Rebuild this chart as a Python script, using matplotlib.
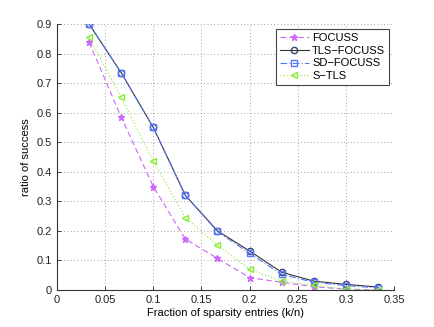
import matplotlib
matplotlib.use("Agg")
import matplotlib.pyplot as plt
import numpy as np

plt.rcParams['font.family'] = ['Liberation Sans', 'DejaVu Sans']

k_over_n = [1/30, 2/30, 3/30, 4/30, 5/30, 6/30, 7/30, 8/30, 9/30, 10/30]
focuss = [0.838, 0.585, 0.350, 0.172, 0.107, 0.042, 0.026, 0.011, 0.003, 0.000]
tls_focuss = [0.900, 0.735, 0.550, 0.320, 0.200, 0.132, 0.060, 0.030, 0.019, 0.010]
sd_focuss = [0.900, 0.735, 0.550, 0.320, 0.198, 0.124, 0.053, 0.026, 0.015, 0.007]
s_tls = [0.855, 0.652, 0.437, 0.245, 0.152, 0.070, 0.030, 0.016, 0.002, 0.000]

xticks = [0, 0.05, 0.1, 0.15, 0.2, 0.25, 0.3, 0.35]
yticks = [0, 0.1, 0.2, 0.3, 0.4, 0.5, 0.6, 0.7, 0.8, 0.9]

fig = plt.figure(figsize=(4.35, 3.27), dpi=100)
ax = fig.add_axes([57/435, 1-290/327, (394-57)/435, (290-24)/327])

ax.plot(k_over_n, focuss, linestyle=(0, (5, 3)), color='#cc66ff', marker='*',
        markersize=5, linewidth=0.8, label='FOCUSS')
ax.plot(k_over_n, tls_focuss, linestyle='-', color='#333333', marker='o',
        markersize=4.5, markerfacecolor='none', markeredgecolor='#334466',
        markeredgewidth=1.0, linewidth=0.8, label='TLS\u2212FOCUSS')
ax.plot(k_over_n, sd_focuss, linestyle=(0, (6, 2, 1, 2)), color='#5577ff', marker='s',
        markersize=4.2, markerfacecolor='none', markeredgewidth=1.0, linewidth=0.8,
        label='SD\u2212FOCUSS')
ax.plot(k_over_n, s_tls, linestyle=(0, (1, 2)), color='#88ee33', marker='<',
        markersize=5, markerfacecolor='none', markeredgewidth=1.0, linewidth=0.8,
        label='S\u2212TLS')

ax.set_xlim(0, 0.35)
ax.set_ylim(0, 0.9)
ax.set_xticks(xticks)
ax.set_xticklabels(['0', '0.05', '0.1', '0.15', '0.2', '0.25', '0.3', '0.35'])
ax.set_yticks(yticks)
ax.set_yticklabels(['0', '0.1', '0.2', '0.3', '0.4', '0.5', '0.6', '0.7', '0.8', '0.9'])
ax.tick_params(direction='in', labelsize=8, length=3, width=0.6, colors='#222222')
ax.grid(True, linestyle=(0, (1, 3)), color='#888888', linewidth=0.6)
for s in ['top', 'right']:
    ax.spines[s].set_visible(False)
for s in ['left', 'bottom']:
    ax.spines[s].set_linewidth(0.8)
    ax.spines[s].set_color('#333333')

ax.set_xlabel('Fraction of sparsity entries (k/n)', fontsize=8, labelpad=2)
ax.set_ylabel('ratio of success', fontsize=8, labelpad=4)

leg = ax.legend(loc='upper right', bbox_to_anchor=(1 - 5/337, 1 - 5/266), fontsize=8,
                fancybox=False, framealpha=1, edgecolor='#444444', borderpad=0.35,
                labelspacing=0.25, handlelength=2.6, handletextpad=0.3, borderaxespad=0)
leg.get_frame().set_linewidth(0.8)

fig.savefig('out.png', dpi=100)
